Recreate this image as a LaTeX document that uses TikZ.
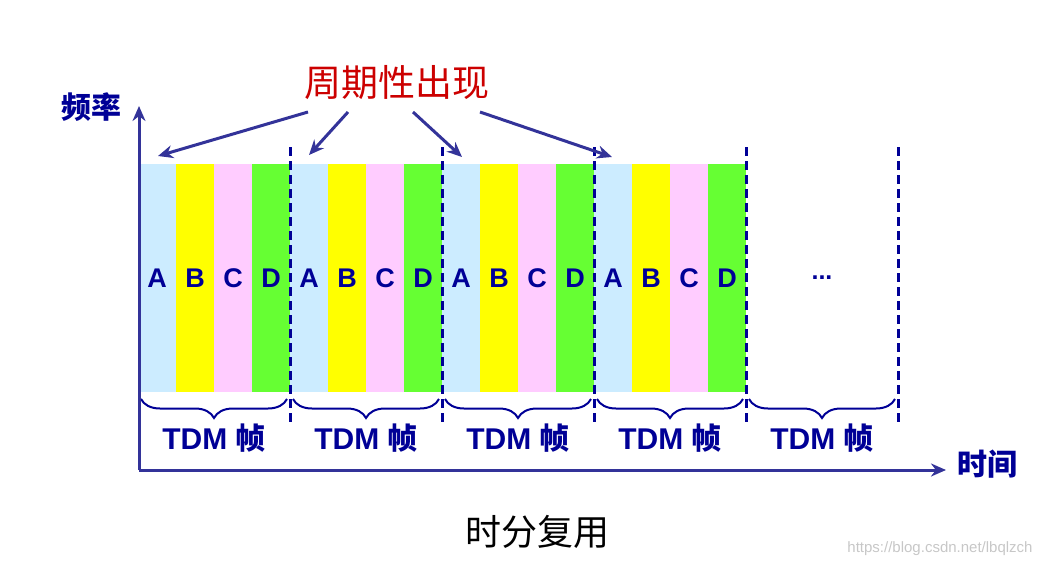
\documentclass[tikz,border=0pt]{standalone}
\usepackage{fontspec}
\setmainfont{Liberation Sans}
\newfontfamily\cjk{Noto Sans CJK SC}
\usetikzlibrary{arrows.meta,positioning,decorations.pathreplacing}
\definecolor{navy}{RGB}{0,0,150}
\definecolor{arrowc}{RGB}{51,51,153}
\definecolor{titlered}{RGB}{204,0,0}
\definecolor{cblue}{RGB}{204,236,255}
\definecolor{cyellow}{RGB}{255,255,0}
\definecolor{cpink}{RGB}{255,204,255}
\definecolor{cgreen}{RGB}{102,255,51}

\begin{document}
\begin{tikzpicture}[x=1pt, y=-1pt, >={Stealth[length=15pt,width=13pt]}]
\tikzset{
  slot/.style={minimum width=38pt, minimum height=228pt, inner sep=0pt, outer sep=0pt, text=navy, font=\fontsize{27}{27}\selectfont\bfseries},
  frame/.style={text=navy, inner sep=0pt, font=\fontsize{30}{30}\selectfont\bfseries},
  axislabel/.style={text=navy, inner sep=0pt, font=\fontsize{30}{30}\selectfont\cjk\bfseries},
  axis/.style={->, line width=3pt, draw=arrowc},
  pointer/.style={->, line width=3pt, draw=arrowc},
  sep/.style={line width=3pt, draw=navy, dash pattern=on 9pt off 5pt},
  framebrace/.style={line width=2pt, draw=navy, decorate, decoration={brace, mirror, amplitude=19pt}},
}
\useasboundingbox (0,0) rectangle (1049,568);

% Time slots A B C D
\foreach \f in {0,...,3}
  \foreach \c/\l [count=\j from 0] in {cblue/A,cyellow/B,cpink/C,cgreen/D}
    \node (s\f\l) [slot, fill=\c] at ({138+152*\f+38*\j+19},278) {\l};
\node (more) [slot, font=\fontsize{25}{25}\selectfont\bfseries] at (822,278) {...};

% Frame boundaries
\foreach \f in {1,...,5}
  \draw[sep] ({138+152*\f},147) -- ({138+152*\f},425);

% Frames
\foreach \f in {0,...,4} {
  \draw[framebrace] ({138+152*\f+3},399) -- ({138+152*\f+149},399);
  \node (tdm\f) [frame] at ({138+152*\f+76},438) {TDM {\cjk 帧}};
}

% Axes
\coordinate (origin) at (139,470);
\draw[axis] (origin) -- (139,106);
\draw[axis] (origin) -- (946,470);
\node (freq) [axislabel] at (91,107) {频率};
\node (time) [axislabel] at (987,464) {时间};

% Periodic
\node (periodic) [text=titlered, font=\fontsize{37}{37}\selectfont\cjk] at (397,83) {周期性出现};
\coordinate (p1) at (308,112);
\coordinate (p2) at (348,112);
\coordinate (p3) at (413,112);
\coordinate (p4) at (480,112);
\coordinate (q1) at (158,156);
\coordinate (q2) at (309,155);
\coordinate (q3) at (462,157);
\coordinate (q4) at (612,157);
\draw[pointer] (p1) -- (q1);
\draw[pointer] (p2) -- (q2);
\draw[pointer] (p3) -- (q3);
\draw[pointer] (p4) -- (q4);

% Caption
\node (caption) [font=\fontsize{36}{36}\selectfont\cjk] at (537,532) {时分复用};
\node (mark) [text=black!22, font=\fontsize{15}{15}\selectfont] at (940,549) {https://blog.csdn.net/lbqlzch};

\end{tikzpicture}
\end{document}
